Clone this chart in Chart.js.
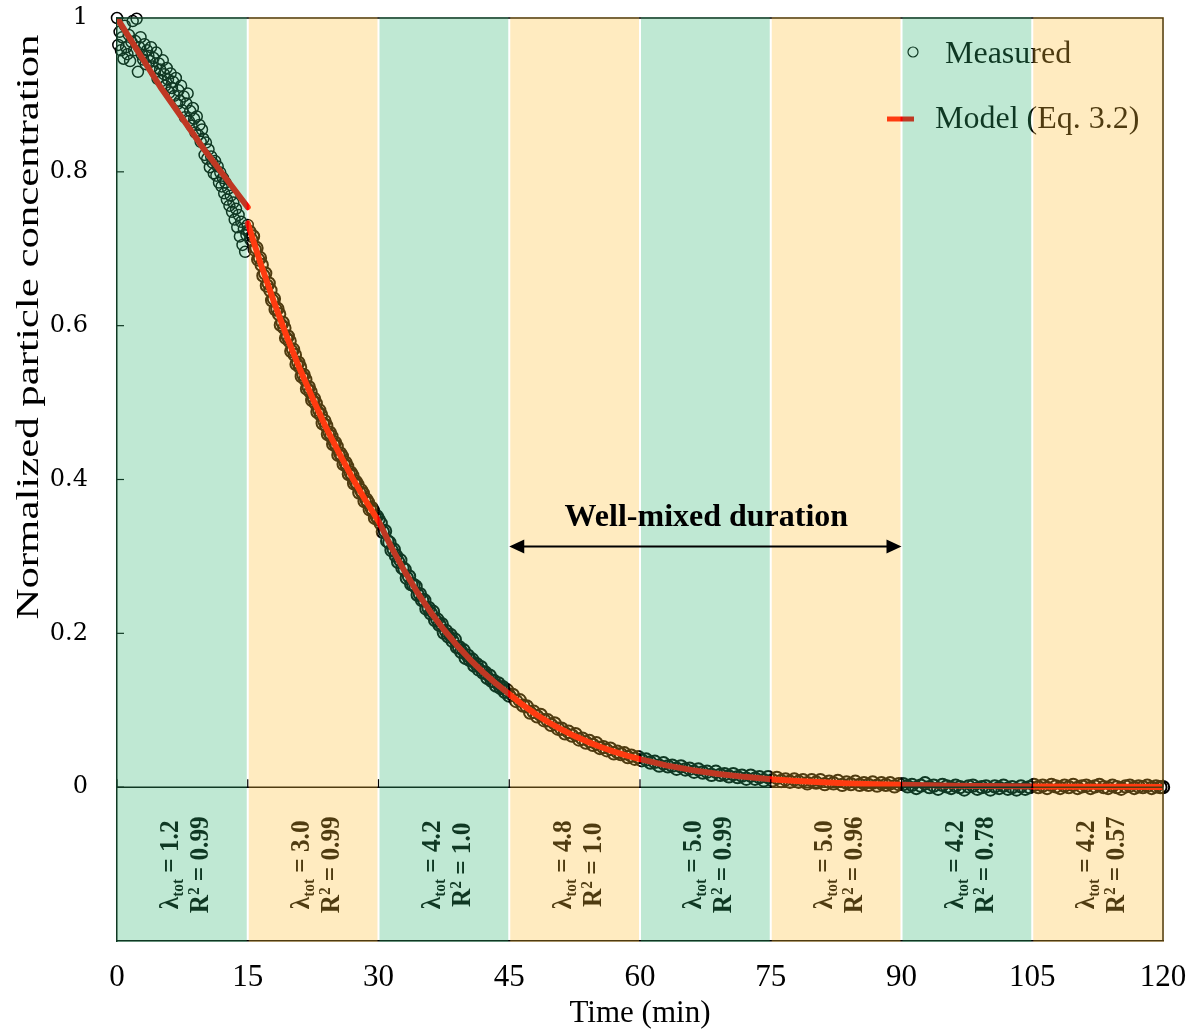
<!DOCTYPE html>
<html>
<head>
<meta charset="utf-8">
<title>Normalized particle concentration</title>
<script src="https://cdn.jsdelivr.net/npm/chart.js@4.4.1/dist/chart.umd.min.js"></script>
<style>
  html, body { margin: 0; padding: 0; background: #fff; }
  #wrap { width: 1196px; height: 1032px; }
</style>
</head>
<body>
<div id="wrap"><canvas id="chart" width="1196" height="1032"></canvas></div>
<script>
// ---- data ----------------------------------------------------------------
const xTicks = [0, 15, 30, 45, 60, 75, 90, 105, 120];
const yTicks = [0, 0.2, 0.4, 0.6, 0.8, 1];
const periodStart = [0, 15, 30, 45, 60, 75, 90, 105];   // 15-min fitting periods
const periodLength = 15;
const lambdaTot = ['1.2', '3.0', '4.2', '4.8', '5.0', '5.0', '4.2', '4.2'];
const rSquared = ['0.99', '0.99', '1.0', '1.0', '0.99', '0.96', '0.78', '0.57'];
const wellMixed = [45, 90];

// measured normalized concentration: [time (min), C/C0]
const measured = [
  [0,1.000],[0.15,0.965],[0.3,0.982],[0.45,0.958],[0.6,0.975],[0.75,0.947],[0.9,0.990],[1.05,0.962],[1.2,0.953],[1.35,0.978],
  [1.5,0.944],[1.65,0.969],[1.8,0.996],[1.95,0.958],[2.1,0.970],[2.25,0.999],[2.4,0.930],[2.55,0.962],[2.7,0.975],[2.85,0.952],
  [3.0,0.946],[3.15,0.966],[3.3,0.940],[3.45,0.958],[3.6,0.951],[3.75,0.944],[3.9,0.962],[4.05,0.937],[4.2,0.948],[4.35,0.930],
  [4.5,0.955],[4.65,0.921],[4.8,0.941],[4.95,0.933],[5.1,0.918],[5.25,0.945],[5.4,0.927],[5.55,0.912],[5.7,0.935],[5.85,0.920],
  [6.0,0.903],[6.15,0.928],[6.3,0.909],[6.45,0.917],[6.6,0.899],[6.75,0.922],[6.9,0.888],[7.05,0.906],[7.2,0.892],[7.35,0.912],
  [7.5,0.880],[7.65,0.898],[7.8,0.871],[7.95,0.889],[8.1,0.902],[8.25,0.866],[8.4,0.879],[8.55,0.860],[8.7,0.883],[8.85,0.869],
  [9.0,0.851],[9.15,0.872],[9.3,0.848],[9.45,0.861],[9.6,0.839],[9.75,0.855],[9.9,0.843],[10.05,0.822],[10.2,0.838],[10.35,0.817],
  [10.5,0.829],[10.65,0.806],[10.8,0.820],[10.95,0.812],[11.1,0.798],[11.25,0.814],[11.4,0.795],[11.55,0.807],[11.7,0.786],[11.85,0.799],
  [12.0,0.781],[12.15,0.792],[12.3,0.772],[12.45,0.786],[12.6,0.764],[12.75,0.778],[12.9,0.756],[13.05,0.769],[13.2,0.748],[13.35,0.760],
  [13.5,0.738],[13.65,0.752],[13.8,0.728],[13.95,0.744],[14.1,0.716],[14.25,0.735],[14.4,0.705],[14.55,0.726],[14.7,0.696],[14.85,0.718],
  [15.0,0.731],
  [15.2,0.722],[15.4,0.712],[15.6,0.716],[15.8,0.699],[16.0,0.701],[16.2,0.686],[16.4,0.688],[16.6,0.679],[16.8,0.665],[17.0,0.668],
  [17.2,0.652],[17.4,0.655],[17.6,0.646],[17.8,0.633],[18.0,0.635],[18.2,0.621],[18.4,0.622],[18.6,0.615],[18.8,0.601],[19.0,0.604],
  [19.2,0.597],[19.4,0.584],[19.6,0.586],[19.8,0.580],[20.0,0.567],[20.2,0.569],[20.4,0.562],[20.6,0.550],[20.8,0.552],[21.0,0.546],
  [21.2,0.534],[21.4,0.536],[21.6,0.530],[21.8,0.518],[22.0,0.520],[22.2,0.514],[22.4,0.503],[22.6,0.505],[22.8,0.499],[23.0,0.488],
  [23.2,0.490],[23.4,0.484],[23.6,0.473],[23.8,0.476],[24.0,0.470],[24.2,0.459],[24.4,0.461],[24.6,0.456],[24.8,0.446],[25.0,0.448],
  [25.2,0.443],[25.4,0.432],[25.6,0.434],[25.8,0.430],[26.0,0.420],[26.2,0.422],[26.4,0.417],[26.6,0.407],[26.8,0.409],[27.0,0.405],
  [27.2,0.395],[27.4,0.397],[27.6,0.393],[27.8,0.383],[28.0,0.386],[28.2,0.382],[28.4,0.372],[28.6,0.374],[28.8,0.370],[29.0,0.361],
  [29.2,0.363],[29.4,0.359],[29.6,0.350],[29.8,0.352],[30.0,0.348],
  [30.25,0.343],[30.5,0.332],[30.75,0.333],[31,0.320],[31.25,0.318],[31.5,0.308],[31.75,0.309],[32,0.301],[32.25,0.293],[32.5,0.295],
  [32.75,0.285],[33,0.283],[33.25,0.272],[33.5,0.274],[33.75,0.264],[34,0.263],[34.25,0.261],[34.5,0.250],[34.75,0.251],[35,0.243],
  [35.25,0.243],[35.5,0.232],[35.75,0.233],[36,0.226],[36.25,0.228],[36.5,0.217],[36.75,0.218],[37,0.211],[37.25,0.212],[37.5,0.201],
  [37.75,0.203],[38,0.196],[38.25,0.198],[38.5,0.190],[38.75,0.192],[39,0.182],[39.25,0.182],[39.5,0.176],[39.75,0.178],[40,0.168],
  [40.25,0.171],[40.5,0.165],[40.75,0.166],[41,0.158],[41.25,0.160],[41.5,0.153],[41.75,0.156],[42,0.149],[42.25,0.149],[42.5,0.142],
  [42.75,0.145],[43,0.138],[43.25,0.138],[43.5,0.132],[43.75,0.135],[44,0.129],[44.25,0.130],[44.5,0.124],[44.75,0.126],[45,0.119],
  [45.4,0.120],[45.8,0.112],[46.2,0.113],[46.6,0.106],[47.0,0.105],[47.4,0.097],[47.8,0.098],[48.2,0.092],[48.6,0.094],[49.0,0.087],
  [49.4,0.087],[49.8,0.081],[50.2,0.083],[50.6,0.076],[51.0,0.076],[51.4,0.070],[51.8,0.072],[52.2,0.067],[52.6,0.069],[53.0,0.062],
  [53.4,0.063],[53.8,0.058],[54.2,0.060],[54.6,0.055],[55.0,0.057],[55.4,0.051],[55.8,0.052],[56.2,0.048],[56.6,0.050],[57.0,0.044],
  [57.4,0.046],[57.8,0.043],[58.2,0.044],[58.6,0.039],[59.0,0.041],[59.4,0.037],[59.8,0.039],
  [60.2,0.035],[60.7,0.036],[61.2,0.032],[61.7,0.033],[62.2,0.028],[62.7,0.031],[63.2,0.027],[63.7,0.028],[64.2,0.024],[64.7,0.027],
  [65.2,0.023],[65.7,0.024],[66.2,0.020],[66.7,0.023],[67.2,0.019],[67.7,0.020],[68.2,0.016],[68.7,0.020],[69.2,0.016],[69.7,0.017],
  [70.2,0.014],[70.7,0.017],[71.2,0.013],[71.7,0.015],[72.2,0.011],[72.7,0.015],[73.2,0.011],[73.7,0.013],[74.2,0.009],[74.7,0.013],
  [75.2,0.009],[75.7,0.012],[76.2,0.008],[76.7,0.010],[77.2,0.007],[77.7,0.010],[78.2,0.007],[78.7,0.009],[79.2,0.005],[79.7,0.009],
  [80.2,0.006],[80.7,0.009],[81.2,0.004],[81.7,0.007],[82.2,0.005],[82.7,0.008],[83.2,0.003],[83.7,0.006],[84.2,0.004],[84.7,0.007],
  [85.2,0.003],[85.7,0.005],[86.2,0.003],[86.7,0.006],[87.2,0.002],[87.7,0.005],[88.2,0.003],[88.7,0.005],[89.2,0.001],[89.7,0.004],
  [90.2,0.004],[90.7,0.001],[91.2,0.003],[91.7,-0.001],[92.2,0.002],[92.7,0.005],[93.2,0.000],[93.7,0.002],[94.2,-0.002],[94.7,0.003],
  [95.2,0.001],[95.7,-0.001],[96.2,0.002],[96.7,0.000],[97.2,-0.003],[97.7,0.001],[98.2,0.002],[98.7,-0.002],[99.2,0.000],[99.7,0.001],
  [100.2,-0.003],[100.7,0.001],[101.2,-0.001],[101.7,0.002],[102.2,-0.002],[102.7,0.000],[103.2,-0.003],[103.7,0.001],[104.2,-0.002],[104.7,0.000],
  [105.2,0.003],[105.7,0.000],[106.2,0.002],[106.7,-0.001],[107.2,0.003],[107.7,0.001],[108.2,-0.001],[108.7,0.002],[109.2,0.000],[109.7,0.003],
  [110.2,-0.001],[110.7,0.001],[111.2,0.002],[111.7,-0.001],[112.2,0.001],[112.7,0.003],[113.2,0.000],[113.7,-0.001],[114.2,0.002],[114.7,0.000],
  [115.2,-0.002],[115.7,0.001],[116.2,0.002],[116.7,-0.001],[117.2,0.001],[117.7,0.000],[118.2,0.002],[118.7,-0.001],[119.2,0.001],[119.7,0.000],
  [120.0,0.000]
];

// fitted first-order decay for each period (Eq. 3.2); null separates the first two fits
const modelFit = [
  [0,1.000],[5,0.910],[10,0.829],[15,0.754],[15,null],
  [15,0.733],[16.5,0.680],[18,0.631],[19.5,0.585],[21,0.543],[22.5,0.504],[24,0.467],[25.5,0.434],[27,0.402],[28.5,0.373],[30,0.346],
  [31.5,0.3115],[33,0.2805],[34.5,0.2525],[36,0.2273],[37.5,0.2047],[39,0.1843],[40.5,0.1659],[42,0.1494],[43.5,0.1345],[45,0.1211],
  [46.5,0.1074],[48,0.0952],[49.5,0.0844],[51,0.0749],[52.5,0.0664],[54,0.0589],[55.5,0.0522],[57,0.0463],[58.5,0.0411],[60,0.0364],
  [63,0.0283],[66,0.0221],[69,0.0172],[72,0.0134],[75,0.0104],[78,0.0081],[81,0.0063],[84,0.0049],[87,0.0038],[90,0.0030],
  [93,0.0024],[96,0.0020],[99,0.0016],[102,0.0013],[105,0.0010],[110,0.0007],[115,0.0005],[120,0.0003]
];

// ---- styling -------------------------------------------------------------
const SERIF = '"Liberation Serif", "Times New Roman", serif';
const shadeGreen = 'rgba(48, 181, 113, 0.31)';
const shadeSand = 'rgba(255, 190, 52, 0.31)';

function richWidth(ctx, parts) {
  let w = 0;
  parts.forEach(p => { ctx.font = p.font; w += ctx.measureText(p.text).width; });
  return w;
}
function drawRich(ctx, parts, cx, baseline) {
  let xx = cx - richWidth(ctx, parts) / 2;
  parts.forEach(p => {
    ctx.font = p.font;
    ctx.fillText(p.text, xx, baseline + (p.dy || 0));
    xx += ctx.measureText(p.text).width;
  });
}

const decorations = {
  id: 'decorations',
  afterDraw(chart) {
    const { ctx, chartArea: a, scales: { x, y } } = chart;
    ctx.save();

    // y-axis title, stretched along its baseline
    ctx.save();
    ctx.translate(30, 327);
    ctx.rotate(-Math.PI / 2);
    ctx.font = '32px ' + SERIF;
    const title = 'Normalized particle concentration';
    const tw = ctx.measureText(title).width;
    ctx.scale(585 / tw, 1);
    ctx.fillStyle = '#000';
    ctx.textAlign = 'center';
    ctx.textBaseline = 'middle';
    ctx.fillText(title, 0, 0);
    ctx.restore();

    // frame top and right, zero line, tick marks
    ctx.strokeStyle = '#000';
    ctx.lineWidth = 1.5;
    ctx.beginPath();
    ctx.moveTo(a.left, a.top); ctx.lineTo(a.right, a.top); ctx.lineTo(a.right, a.bottom);
    ctx.stroke();
    const y0 = y.getPixelForValue(0);
    ctx.beginPath(); ctx.moveTo(a.left, y0); ctx.lineTo(a.right, y0); ctx.stroke();
    ctx.lineWidth = 1.2;
    xTicks.forEach(v => {
      const px = x.getPixelForValue(v);
      ctx.beginPath(); ctx.moveTo(px, y0); ctx.lineTo(px, y0 - 8); ctx.stroke();
    });
    yTicks.forEach(v => {
      const py = y.getPixelForValue(v);
      ctx.beginPath(); ctx.moveTo(a.left, py); ctx.lineTo(a.left + 7, py); ctx.stroke();
    });

    // per-period fit results, rotated
    ctx.fillStyle = '#000';
    ctx.textAlign = 'left';
    ctx.textBaseline = 'alphabetic';
    const big = 'bold 28px ' + SERIF, small = 'bold 17px ' + SERIF;
    periodStart.forEach((t0, i) => {
      const cx = x.getPixelForValue(t0 + periodLength / 2);
      const cy = y.getPixelForValue(-0.101);
      ctx.save();
      ctx.translate(cx, cy);
      ctx.rotate(-Math.PI / 2);
      ctx.scale(0.9, 1);
      drawRich(ctx, [
        { text: '\u03bb', font: big },
        { text: 'tot', font: small, dy: 5 },
        { text: ' = ' + lambdaTot[i], font: big }
      ], 0, -4);
      drawRich(ctx, [
        { text: 'R', font: big },
        { text: '2', font: small, dy: -9 },
        { text: ' = ' + rSquared[i], font: big }
      ], 0, 26);
      ctx.restore();
    });

    // legend
    ctx.font = '32px ' + SERIF;
    ctx.lineWidth = 1.2;
    ctx.beginPath(); ctx.arc(913, 52, 5, 0, Math.PI * 2); ctx.stroke();
    ctx.fillText('Measured', 945, 63);
    ctx.strokeStyle = '#ff0000';
    ctx.lineWidth = 5;
    ctx.beginPath(); ctx.moveTo(887, 119); ctx.lineTo(914, 119); ctx.stroke();
    ctx.fillText('Model (Eq. 3.2)', 935, 128);

    // period shading laid over the plot, white seams between periods
    periodStart.forEach((t0, i) => {
      const l = x.getPixelForValue(t0), r = x.getPixelForValue(t0 + periodLength);
      const left = i === 0 ? a.left - 1 : l + 1;
      const right = i === periodStart.length - 1 ? a.right + 1 : r - 1;
      ctx.fillStyle = i % 2 === 0 ? shadeGreen : shadeSand;
      ctx.fillRect(left, a.top - 1, right - left, a.bottom - a.top + 2);
    });

    // well-mixed duration arrow
    const xa = x.getPixelForValue(wellMixed[0]), xb = x.getPixelForValue(wellMixed[1]);
    const ya = y.getPixelForValue(0.313);
    ctx.strokeStyle = '#000';
    ctx.fillStyle = '#000';
    ctx.lineWidth = 2;
    ctx.beginPath(); ctx.moveTo(xa + 10, ya); ctx.lineTo(xb - 10, ya); ctx.stroke();
    ctx.beginPath(); ctx.moveTo(xa, ya); ctx.lineTo(xa + 15, ya - 7); ctx.lineTo(xa + 15, ya + 7); ctx.closePath(); ctx.fill();
    ctx.beginPath(); ctx.moveTo(xb, ya); ctx.lineTo(xb - 15, ya - 7); ctx.lineTo(xb - 15, ya + 7); ctx.closePath(); ctx.fill();
    ctx.font = 'bold 32px ' + SERIF;
    ctx.textAlign = 'center';
    ctx.fillText('Well-mixed duration', (xa + xb) / 2 + 1, y.getPixelForValue(0.339));

    ctx.restore();
  }
};

new Chart(document.getElementById('chart'), {
  type: 'line',
  data: {
    datasets: [
      {
        label: 'Model (Eq. 3.2)',
        data: modelFit.map(p => ({ x: p[0], y: p[1] })),
        borderColor: '#ff0000',
        borderWidth: 6,
        borderCapStyle: 'round',
        borderJoinStyle: 'round',
        pointRadius: 0,
        pointHoverRadius: 0,
        tension: 0,
        spanGaps: false,
        order: 0
      },
      {
        label: 'Measured',
        data: measured.map(p => ({ x: p[0], y: p[1] })),
        showLine: false,
        pointStyle: 'circle',
        // sparser sampling after the first period is drawn with larger, heavier rings
        pointRadius: c => (c.raw && c.raw.x > 15 ? 6.2 : 5.5),
        pointHoverRadius: 6,
        pointBorderWidth: c => (c.raw && c.raw.x > 15 ? 2 : 1.5),
        pointBorderColor: '#000',
        pointBackgroundColor: 'rgba(0,0,0,0)',
        clip: false,
        order: 1
      }
    ]
  },
  options: {
    responsive: false,
    animation: false,
    events: [],
    layout: { padding: { top: 18, right: 33, left: 0, bottom: 0 } },
    plugins: { legend: { display: false }, tooltip: { enabled: false } },
    scales: {
      x: {
        type: 'linear',
        min: 0, max: 120,
        afterFit: s => { s.height = 91; s.paddingLeft = 0; s.paddingRight = 0; },
        afterBuildTicks: s => { s.ticks = xTicks.map(v => ({ value: v })); },
        grid: { display: false, drawTicks: false },
        border: { display: true, color: '#000', width: 1.5 },
        ticks: {
          autoSkip: false, maxRotation: 0, padding: 18, color: '#000',
          font: { family: SERIF, size: 31 }
        },
        title: {
          display: true, text: 'Time (min)', color: '#000',
          font: { family: SERIF, size: 31 },
          padding: { top: 0, bottom: 0 }
        }
      },
      y: {
        type: 'linear',
        min: -0.2, max: 1,
        afterFit: s => { s.width = 117; s.paddingTop = 0; s.paddingBottom = 0; },
        afterBuildTicks: s => { s.ticks = yTicks.map(v => ({ value: v })); },
        grid: { display: false, drawTicks: false },
        border: { display: true, color: '#000', width: 1.5 },
        ticks: {
          padding: 29, color: '#000',
          font: { family: '"DejaVu Serif", serif', size: 24 },
          callback: v => (v === 0 ? '0' : v === 1 ? '1' : v.toFixed(1))
        }
      }
    }
  },
  plugins: [decorations]
});
</script>
</body>
</html>
